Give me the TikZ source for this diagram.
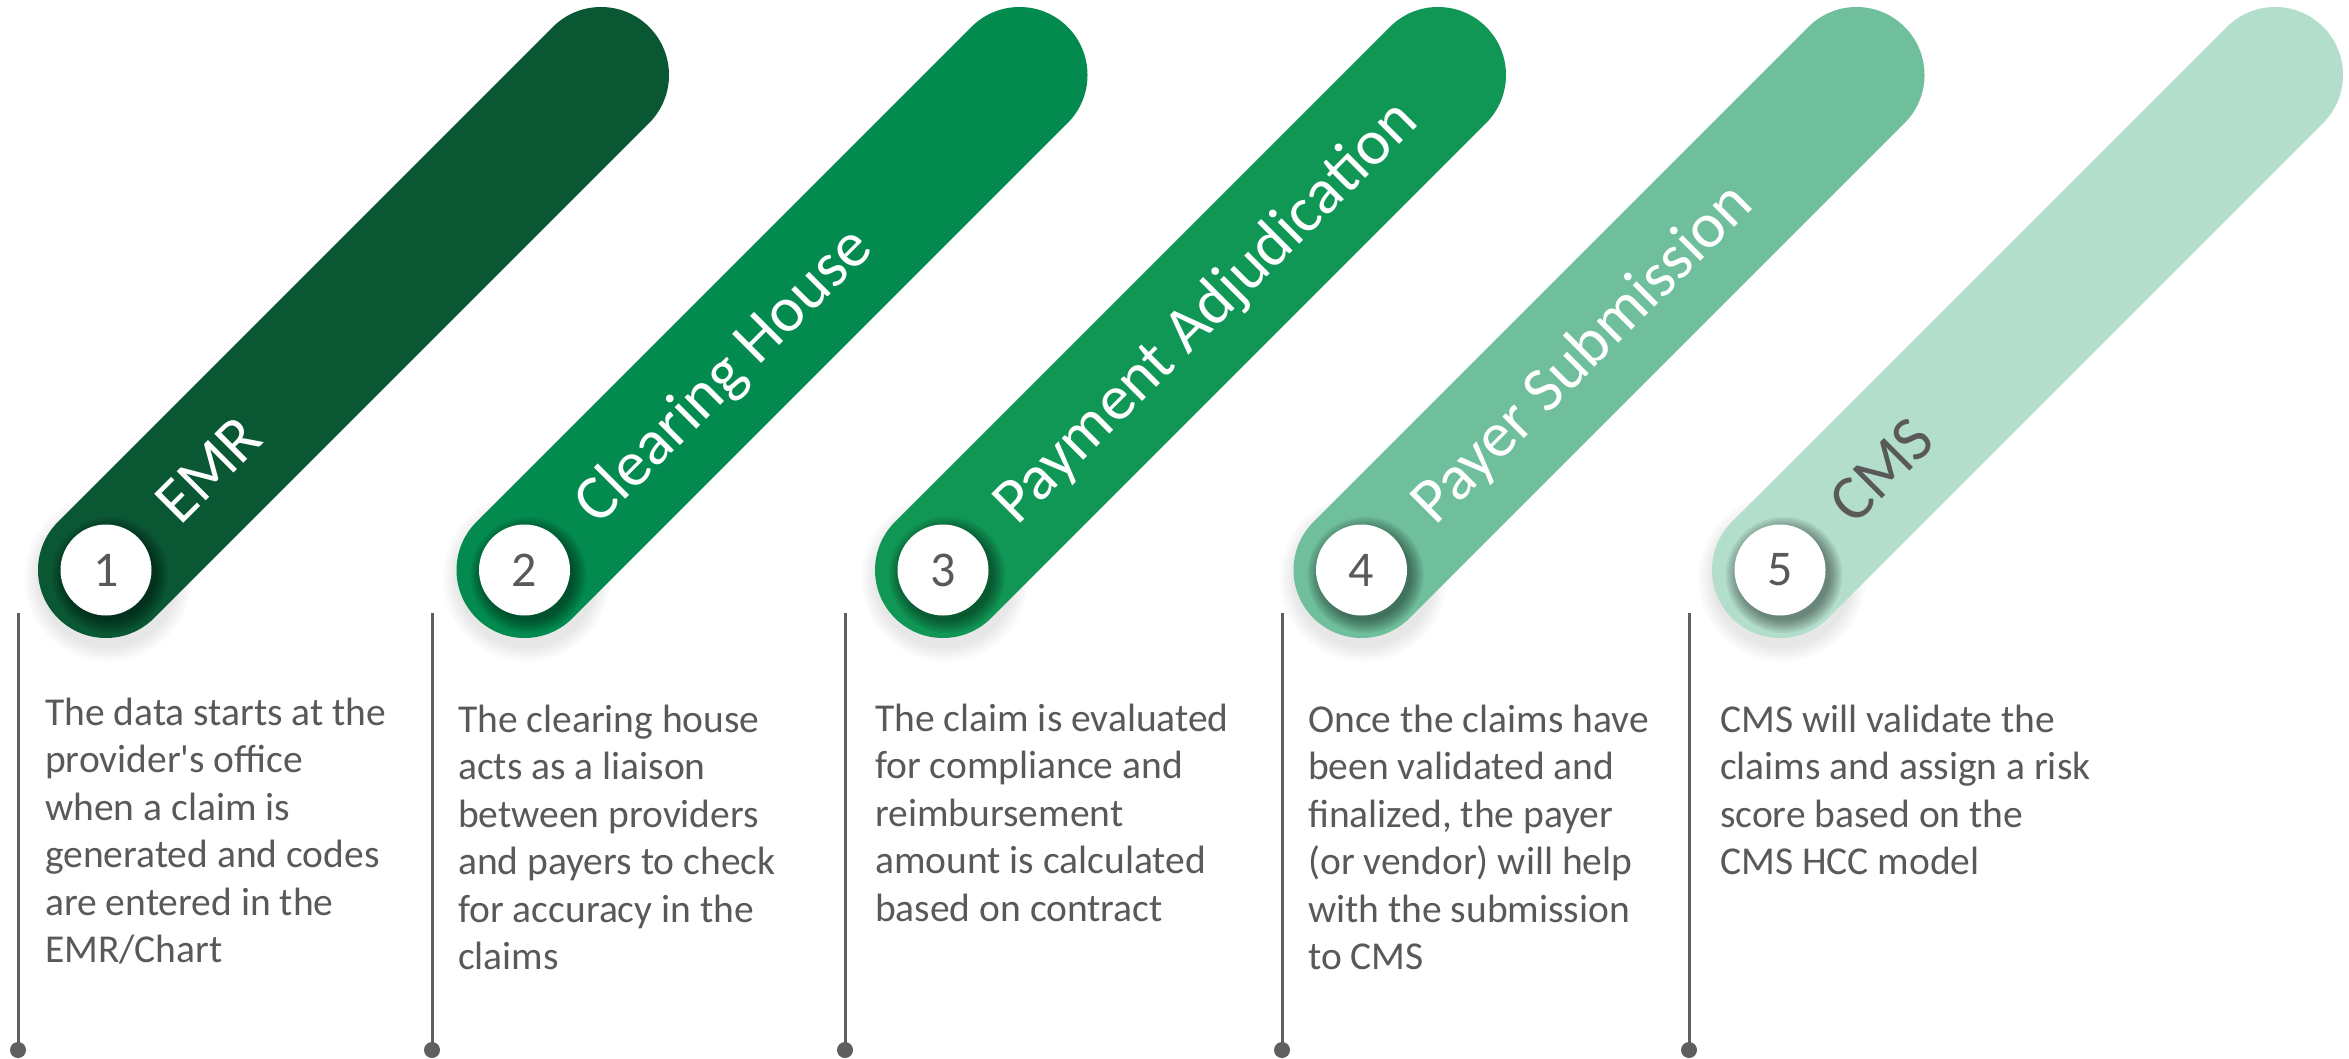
\documentclass[tikz,border=0pt]{standalone}
\usepackage{fontspec}
\setmainfont{Carlito}[Ligatures=TeXOff]
\usetikzlibrary{calc}
\definecolor{cA}{HTML}{0A5734}
\definecolor{cB}{HTML}{038B4F}
\definecolor{cC}{HTML}{109655}
\definecolor{cD}{HTML}{6FBF9D}
\definecolor{cE}{HTML}{B2DECB}
\definecolor{tgray}{HTML}{595959}
\definecolor{lgray}{HTML}{5F5F5F}
\begin{document}
\begin{tikzpicture}[x=1pt,y=-1pt,
  bar/.style={line width=136pt, line cap=round},
  num/.style={circle, fill=white, minimum size=91pt, inner sep=0pt, text=tgray, font=\fontsize{50}{60}\selectfont},
  lab/.style={rotate=45, anchor=base west, inner sep=0pt, font=\fontsize{64}{76}\selectfont},
  desc/.style={anchor=base west, inner sep=0pt, text=tgray, font=\fontsize{39.5}{47.5}\selectfont},
  vline/.style={draw=lgray, line width=3pt},
  dotnode/.style={circle, fill=lgray, minimum size=16pt, inner sep=0pt}]
\useasboundingbox[fill=white] (0,0) rectangle (2349,1059);

\foreach \i/\cx/\col/\lc/\txt in {1/106/cA/white/EMR, 2/524.5/cB/white/Clearing House, 3/943/cC/white/Payment Adjudication, 4/1361.5/cD/white/Payer Submission, 5/1780/cE/tgray/CMS}{
  \coordinate (b\i) at (\cx,570);
  \coordinate (t\i) at (\cx+495,75);
  \foreach \j in {0,...,7}{
    \pgfmathsetmacro\rr{70+2*\j}
    \fill[black, opacity=0.012] (\cx+2,578) circle (\rr pt);
  }
  \draw[bar, \col] (b\i) -- (t\i);
  \foreach \j in {0,...,7}{
    \pgfmathsetmacro\rr{45.5+1.8*\j}
    \fill[black, opacity=0.06] (\cx+4,575) circle (\rr pt);
  }
  \node[num] (n\i) at (b\i) {\i};
  \node[lab, text=\lc] (l\i) at (\cx+74,527) {\txt};
}

\node[desc] (d1) at (45,725) {\begin{tabular}[t]{@{}l@{}}The data starts at the\\provider's office\\when a claim is\\generated and codes\\are entered in the\\EMR/Chart\end{tabular}};
\node[desc] (d2) at (458,732) {\begin{tabular}[t]{@{}l@{}}The clearing house\\acts as a liaison\\between providers\\and payers to check\\for accuracy in the\\claims\end{tabular}};
\node[desc] (d3) at (875,731) {\begin{tabular}[t]{@{}l@{}}The claim is evaluated\\for compliance and\\reimbursement\\amount is calculated\\based on contract\end{tabular}};
\node[desc] (d4) at (1308,732) {\begin{tabular}[t]{@{}l@{}}Once the claims have\\been validated and\\finalized, the payer\\(or vendor) will help\\with the submission\\to CMS\end{tabular}};
\node[desc] (d5) at (1720,732) {\begin{tabular}[t]{@{}l@{}}CMS will validate the\\claims and assign a risk\\score based on the\\CMS HCC model\end{tabular}};

\foreach \i/\x in {1/18,2/432,3/845,4/1282,5/1689}{
  \coordinate (vt\i) at (\x,613);
  \node[dotnode] (dot\i) at (\x,1050) {};
  \draw[vline] (vt\i) -- (dot\i.center);
}
\end{tikzpicture}
\end{document}
